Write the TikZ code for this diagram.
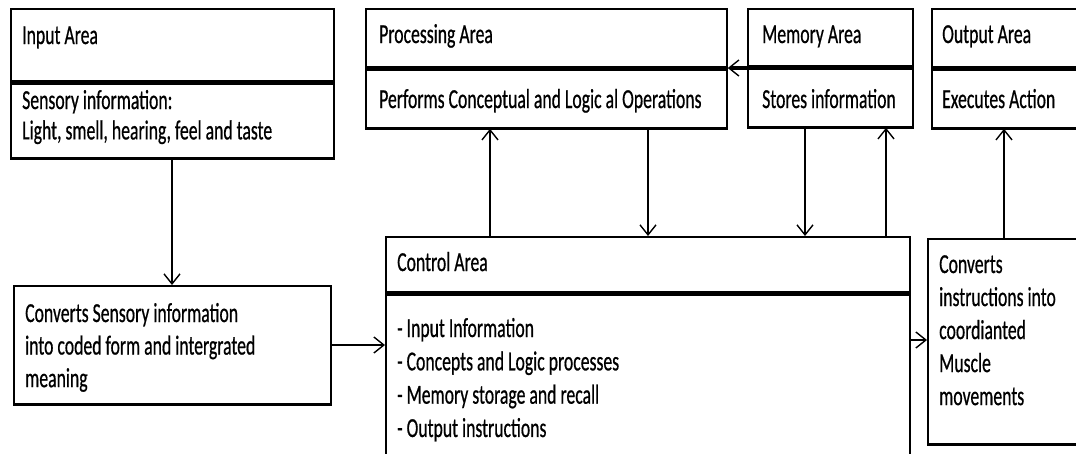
\documentclass[tikz,border=0pt]{standalone}
\usepackage{fontspec}
\setmainfont{Carlito}[FakeBold=0.8]
\usetikzlibrary{arrows.meta}
\newcommand{\blk}[2]{\scalebox{1}[1.55]{\fontsize{17.7}{#1}\selectfont\begin{tabular}[t]{@{}l@{}}#2\end{tabular}}}
\tikzset{
  box/.style={draw, line width=1.8pt, rectangle, inner sep=0pt},
  sepline/.style={line width=5pt},
  botline/.style={line width=3.2pt},
  txt/.style={inner sep=0pt, anchor=base west},
  conn/.style={line width=2pt, -{Straight Barb[line width=1.4pt, length=10pt, width=16pt]}},
}
\begin{document}
\begin{tikzpicture}[x=1pt, y=-1pt]
\useasboundingbox (0,0) rectangle (1076,453);
\clip (0,0) rectangle (1076,453);
% boxes
\node[box, minimum width=323pt, minimum height=149pt, anchor=north west] (inp) at (10,8) {};
\node[box, minimum width=361pt, minimum height=119pt, anchor=north west] (proc) at (365,8) {};
\node[box, minimum width=165pt, minimum height=118pt, anchor=north west] (mem) at (747,8) {};
\node[box, minimum width=160pt, minimum height=119pt, anchor=north west] (out) at (931,8) {};
\node[box, minimum width=317pt, minimum height=118pt, anchor=north west] (conv) at (13,285) {};
\node[box, minimum width=524pt, minimum height=240pt, anchor=north west] (ctrl) at (385,236) {};
\node[box, minimum width=160pt, minimum height=205pt, anchor=north west] (musc) at (927,238) {};
% separators
\draw[sepline] (10,82) -- (333,82);
\draw[sepline] (365,68) -- (726,68);
\draw[sepline] (747,67) -- (912,67);
\draw[sepline] (931,68) -- (1091,68);
\draw[sepline] (385,293) -- (909,293);
% thicker bottom edges
\draw[botline] (inp.south west) -- (inp.south east);
\draw[botline] (proc.south west) -- (proc.south east);
\draw[botline] (mem.south west) -- (mem.south east);
\draw[botline] (out.south west) -- (out.south east);
\draw[botline] (conv.south west) -- (conv.south east);
\draw[botline] (musc.south west) -- (musc.south east);
% texts
\node[txt] (tinp) at (22,44) {\blk{20}{Input Area}};
\node[txt] (tinp2) at (22,109) {\blk{19.6}{Sensory information:\\Light, smell, hearing, feel and taste}};
\node[txt] (tproc) at (379,43) {\blk{21.6}{Processing Area}};
\node[txt] (tproc2) at (379,108) {\blk{21.6}{Performs Conceptual and Logic al Operations}};
\node[txt] (tmem) at (762,43) {\blk{21.6}{Memory Area}};
\node[txt] (tmem2) at (762,108) {\blk{21.6}{Stores information}};
\node[txt] (tout) at (942,43) {\blk{21.6}{Output Area}};
\node[txt] (tout2) at (942,108) {\blk{21.6}{Executes Action}};
\node[txt] (tconv) at (25,322) {\blk{21}{Converts Sensory information\\into coded form and intergrated\\meaning}};
\node[txt] (tctrl) at (397,271) {\blk{21.6}{Control Area}};
\node[txt] (tctrl2) at (397,337) {\blk{21.5}{- Input Information\\- Concepts and Logic processes\\- Memory storage and recall\\- Output instructions}};
\node[txt] (tmusc) at (939,273) {\blk{21.3}{Converts\\instructions into\\coordianted\\Muscle\\movements}};
% column coordinates
\coordinate (c1) at (172,0);
\coordinate (c2) at (490,0);
\coordinate (c3) at (648,0);
\coordinate (c4) at (805,0);
\coordinate (c5) at (886,0);
\coordinate (c6) at (1004,0);
\coordinate (r1) at (0,345);
\coordinate (r2) at (0,340);
\coordinate (r3) at (0,68);
% connectors
\draw[conn] (inp.south -| c1) -- (conv.north -| c1);
\draw[conn, line width=2.6pt] (conv.east |- r1) -- (ctrl.west |- r1);
\draw[conn] (ctrl.north -| c2) -- (proc.south -| c2);
\draw[conn] (proc.south -| c3) -- (ctrl.north -| c3);
\draw[conn] (mem.south -| c4) -- (ctrl.north -| c4);
\draw[conn] (ctrl.north -| c5) -- (mem.south -| c5);
\draw[conn] (musc.north -| c6) -- (out.south -| c6);
\draw[conn] (ctrl.east |- r2) -- (musc.west |- r2);
\draw[conn, line width=4pt] (mem.west |- r3) -- (proc.east |- r3);
\end{tikzpicture}
\end{document}
